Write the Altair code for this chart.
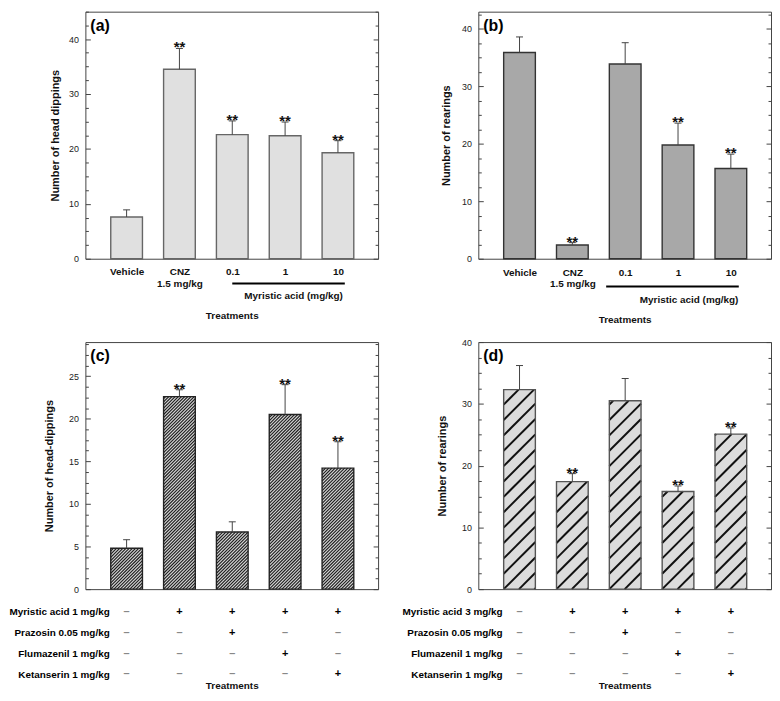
import json
import math
import altair as alt
import pandas as pd

FONT = "Liberation Sans"

# ---------------- data ----------------
AB_CATS = ["Vehicle", "CNZ\n1.5 mg/kg", "0.1", "1", "10"]

A_MEAN = [7.6, 34.5, 22.6, 22.4, 19.3]
A_SEM = [1.3, 3.8, 2.5, 2.5, 2.2]
A_SIG = ["", "**", "**", "**", "**"]

B_MEAN = [35.9, 2.4, 33.9, 19.8, 15.7]
B_SEM = [2.7, 0.4, 3.7, 3.8, 2.5]
B_SIG = ["", "**", "", "**", "**"]

C_MEAN = [4.8, 22.6, 6.7, 20.5, 14.2]
C_SEM = [1.0, 0.8, 1.2, 3.5, 3.1]
C_SIG = ["", "**", "", "**", "**"]

D_MEAN = [32.3, 17.4, 30.5, 15.8, 25.1]
D_SEM = [3.9, 1.3, 3.6, 0.9, 1.0]
D_SIG = ["", "**", "", "**", "**"]

C_ROWS = ["Myristic acid 1 mg/kg", "Prazosin 0.05 mg/kg", "Flumazenil 1 mg/kg", "Ketanserin 1 mg/kg"]
D_ROWS = ["Myristic acid 3 mg/kg", "Prazosin 0.05 mg/kg", "Flumazenil 1 mg/kg", "Ketanserin 1 mg/kg"]
TABLE = [
    ["–", "+", "+", "+", "+"],
    ["–", "–", "+", "–", "–"],
    ["–", "–", "–", "+", "–"],
    ["–", "–", "–", "–", "+"],
]
BRACKET_LABEL = "Myristic acid (mg/kg)"

# ---------------- layout ----------------
W, H = 295, 249
XDOM = [0.22, 5.76]
HALF = 0.30
CAP = 0.066


def hatch_df(means, ymax, step):
    kx = W / (XDOM[1] - XDOM[0])
    ky = H / ymax
    wpx = 2 * HALF * kx
    rows = []
    for i, m in enumerate(means):
        x0 = i + 1 - HALF
        hpx = m * ky
        c = -math.floor(wpx / step) * step
        while c < hpx:
            ulo = max(0.0, -c)
            uhi = min(wpx, hpx - c)
            if uhi - ulo > 0.3:
                rows.append({"hx": x0 + ulo / kx, "hy": (ulo + c) / ky,
                             "hx2": x0 + uhi / kx, "hy2": (uhi + c) / ky})
            c += step
    return pd.DataFrame(rows)


def ticks(ymax, step):
    out = []
    k = 0
    while k * step <= ymax + 1e-9:
        out.append(round(k * step, 4))
        k += 1
    return out


def panel(letter, ytitle, means, sems, sig, ymax, major, minor, fill, stroke,
          hatch=None, cats=None, bracket=None, rows=None, title_y=57, label_pad=14,
          ytitle_x=-35):
    n = len(means)
    df = pd.DataFrame({"idx": list(range(1, n + 1)), "mean": means, "sem": sems, "sig": sig})
    xs = alt.Scale(domain=XDOM, nice=False, zero=False)
    ys = alt.Scale(domain=[0, ymax], nice=False, zero=True)

    if cats is not None:
        labels_js = json.dumps([c.split("\n") for c in cats])
        xaxis = alt.Axis(values=list(range(1, n + 1)), labelExpr=f"{labels_js}[datum.value - 1]",
                         ticks=False, tickSize=0, domain=False, grid=False,
                         labelPadding=label_pad, labelBaseline="middle", labelFontSize=10,
                         labelFontWeight="bold", labelColor="#111", labelLineHeight=11.5,
                         labelOverlap=False, labelFlush=False,
                         title="Treatments", titleY=title_y, titleBaseline="middle",
                         titleFontSize=10, titleFontWeight="bold", titleColor="#111")
    else:
        xaxis = alt.Axis(values=list(range(1, n + 1)), labels=False, ticks=False, tickSize=0,
                         domain=False, grid=False,
                         title="Treatments", titleY=title_y, titleBaseline="middle",
                         titleFontSize=10, titleFontWeight="bold", titleColor="#111")

    majors = ticks(ymax, major)
    minors = [v for v in ticks(ymax, minor) if v not in majors]
    ax_main = alt.Axis(orient="left", values=majors, offset=-5, tickSize=5, tickColor="#444",
                       domain=False, grid=False, labelPadding=7, labelFontSize=9,
                       labelColor="#222", labelFlush=False,
                       title=ytitle, titleX=ytitle_x, titleBaseline="middle", titleFontSize=11,
                       titleFontWeight="bold", titleColor="#111")
    ax_minl = alt.Axis(orient="left", values=minors, offset=-3, tickSize=3, tickColor="#444",
                       domain=False, grid=False, labels=False, title=None)
    ax_majr = alt.Axis(orient="right", values=majors, offset=-5, tickSize=5, tickColor="#444",
                       domain=False, grid=False, labels=False, title=None)
    ax_minr = alt.Axis(orient="right", values=minors, offset=-3, tickSize=3, tickColor="#444",
                       domain=False, grid=False, labels=False, title=None)

    def X(f):
        return alt.X(f, type="quantitative", scale=xs, axis=xaxis)

    def Y(f, axis=None):
        return alt.Y(f, type="quantitative", scale=ys, axis=axis)

    base = alt.Chart(df).transform_calculate(
        upper="datum.mean + datum.sem",
        x0=f"datum.idx - {HALF}", x1=f"datum.idx + {HALF}",
        c0=f"datum.idx - {CAP}", c1=f"datum.idx + {CAP}",
        zero="0",
    )
    layers = []
    layers.append(base.mark_rect(fill=fill, strokeWidth=0).encode(
        x=X("x0"), x2=alt.X2("x1"), y=Y("mean", ax_main), y2=alt.Y2("zero")))
    if hatch is not None:
        hdf = hatch_df(means, ymax, hatch["step"])
        layers.append(alt.Chart(hdf).mark_rule(color=hatch["color"], strokeWidth=hatch["width"]).encode(
            x=X("hx"), x2=alt.X2("hx2"), y=Y("hy"), y2=alt.Y2("hy2")))
    layers.append(base.mark_rect(fillOpacity=0, stroke=stroke, strokeWidth=1.4).encode(
        x=X("x0"), x2=alt.X2("x1"), y=Y("mean", ax_minl), y2=alt.Y2("zero")))
    layers.append(base.mark_rule(color="#444", strokeWidth=1).encode(
        x=X("idx"), y=Y("mean", ax_majr), y2=alt.Y2("upper")))
    layers.append(base.mark_rule(color="#444", strokeWidth=1).encode(
        x=X("c0"), x2=alt.X2("c1"), y=Y("upper", ax_minr)))
    layers.append(base.mark_text(dy=4, baseline="alphabetic", fontSize=15, fontWeight="bold",
                                 color="#111").encode(
        x=X("idx"), y=Y("upper"), text="sig:N"))
    if bracket is not None:
        bdf = pd.DataFrame({"b0": [bracket["x0"]], "b1": [bracket["x1"]], "bt": [bracket["tx"]],
                            "lab": [BRACKET_LABEL]})
        bch = alt.Chart(bdf)
        layers.append(bch.mark_rule(color="#000", strokeWidth=2).encode(
            x=X("b0"), x2=alt.X2("b1"), y=alt.value(H + bracket["ly"])))
        layers.append(bch.mark_text(fontSize=10, fontWeight="bold", color="#111").encode(
            x=X("bt"), y=alt.value(H + bracket["ty"]), text="lab:N"))
    layers.append(alt.Chart(pd.DataFrame({"t": [letter]})).mark_text(
        align="left", baseline="middle", fontSize=16, fontWeight="bold", color="#000").encode(
        x=alt.value(5), y=alt.value(14), text="t:N"))

    inner = alt.layer(*layers).resolve_axis(y="independent")

    if rows is None:
        return inner.properties(width=W, height=H)

    recs = []
    for r, rname in enumerate(rows):
        for i in range(n):
            recs.append({"row": rname, "idx": i + 1, "sym": TABLE[r][i]})
    tdf = pd.DataFrame(recs)
    table = alt.Chart(tdf).mark_text(fontSize=11, fontWeight="bold", baseline="middle").encode(
        x=X("idx"),
        y=alt.Y("row:N", scale=alt.Scale(type="point", domain=rows, range=[H + 23, H + 86], padding=0),
                axis=alt.Axis(orient="left", ticks=False, tickSize=0, domain=False, grid=False,
                              labelPadding=-24, labelFontSize=10, labelFontWeight="bold",
                              labelColor="#000", title=None, labelLimit=0)),
        text="sym:N",
        color=alt.Color("sym:N", scale=alt.Scale(domain=["+", "–"], range=["#000", "#888"]), legend=None),
    )
    return alt.layer(inner, table).resolve_scale(y="independent").properties(width=W, height=H)


pa = panel("(a)", "Number of head dippings", A_MEAN, A_SEM, A_SIG, 45, 10, 2.5,
           "#e0e0e0", "#666", cats=AB_CATS,
           bracket={"x0": 3.0, "x1": 5.13, "tx": 4.16, "ly": 25, "ty": 38},
           title_y=57, label_pad=13, ytitle_x=-35)
pb = panel("(b)", "Number of rearings", B_MEAN, B_SEM, B_SIG, 43, 10, 2.5,
           "#a8a8a8", "#333", cats=AB_CATS,
           bracket={"x0": 2.64, "x1": 5.15, "tx": 4.21, "ly": 28, "ty": 42},
           title_y=61, label_pad=14, ytitle_x=-37)
pc = panel("(c)", "Number of head-dippings", C_MEAN, C_SEM, C_SIG, 29, 5, 1.25,
           "#d4d4d4", "#222", hatch={"step": 3.2, "color": "#1a1a1a", "width": 1.1},
           rows=C_ROWS, title_y=97, ytitle_x=-41)
pd_ = panel("(d)", "Number of rearings", D_MEAN, D_SEM, D_SIG, 40, 10, 2.5,
            "#dcdcdc", "#555", hatch={"step": 15.5, "color": "#111", "width": 2},
            rows=D_ROWS, title_y=97, ytitle_x=-41)

chart = alt.concat(pa, pb, pc, pd_, columns=2, spacing={"row": 12, "column": 22}).properties(
    padding=0
).configure(font=FONT).configure_view(stroke="#444", strokeWidth=1)

chart.save("out.html", embed_options={"renderer": "svg", "actions": False})
